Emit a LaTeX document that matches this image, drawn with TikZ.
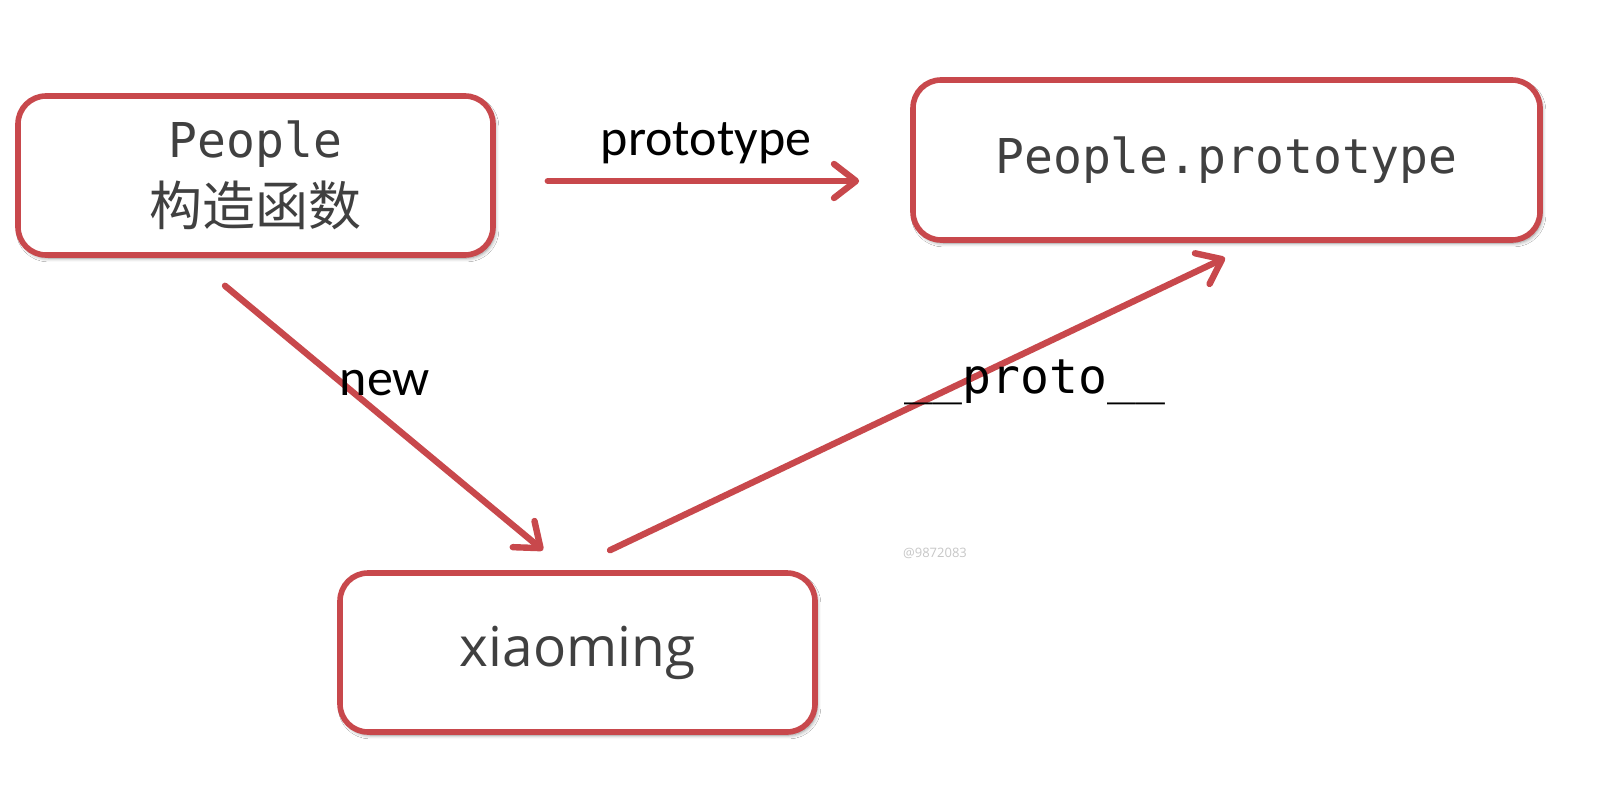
\documentclass[tikz,border=0pt]{standalone}
\usepackage{fontspec}
\setmainfont{Carlito}
\newfontfamily\monof{DejaVu Sans Mono}
\newfontfamily\cjkf{Noto Sans CJK SC}
\newfontfamily\opensf{Open Sans}
\usetikzlibrary{arrows.meta,calc,shadows.blur}
\definecolor{boxred}{RGB}{200,72,76}
\definecolor{txtgray}{RGB}{64,64,64}
\tikzset{
  box/.style={draw=boxred, line width=2.8pt, rounded corners=14pt, fill=white,
    inner sep=0pt, align=center, text=txtgray,
    blur shadow={shadow xshift=1pt, shadow yshift=-1.5pt, shadow blur steps=6, shadow opacity=45}},
  arr/.style={draw=boxred, line width=3.2pt, line cap=round,
    -{Straight Barb[length=11pt,width=17pt,line cap=round,line join=round]}},
  lbl/.style={inner sep=0pt, text=black}
}
\begin{document}
\begin{tikzpicture}[x=0.5pt,y=-0.5pt]
\useasboundingbox (0,0) rectangle (1604,786);
\fill[white] (0,0) rectangle (1604,786);
\node[box, minimum width=237.5pt, minimum height=79.5pt] (ctor) at (255.5,175.5)
  {{\monof\fontsize{24pt}{30pt}\selectfont People}\\[6pt]{\cjkf\fontsize{26.5pt}{31pt}\selectfont 构造函数}};
\node[box, minimum width=313.5pt, minimum height=80pt] (proto) at (1226.5,160)
  {\monof\fontsize{24pt}{30pt}\selectfont People.prototype};
\node[box, minimum width=237.5pt, minimum height=79.5pt] (obj) at (577.5,652.5)
  {\opensf\fontsize{27.5pt}{33pt}\selectfont xiaoming};
\draw[arr] ($(ctor.east)+(52,5.5)$) -- ($(proto.west)+(-51,21)$);
\draw[arr] ($(ctor.south)+(-30.5,28)$) -- ($(obj.north)+(-34.5,-20)$);
\draw[arr] ($(obj.north)+(32.5,-20)$) -- ($(proto.south)+(-1.5,15)$);
\node[lbl, font=\fontsize{26pt}{30pt}\selectfont] (lproto) at (706,143) {prototype};
\node[lbl, font=\fontsize{26pt}{30pt}\selectfont] (lnew) at (385,383) {new};
\node[lbl, font=\monof\fontsize{24pt}{30pt}\selectfont] (l__) at (1035,382) {\_\_proto\_\_};
\node[lbl, text=black!22, font=\opensf\fontsize{6.5pt}{8pt}\selectfont] (wm) at (935,553) {@9872083};
\end{tikzpicture}
\end{document}
